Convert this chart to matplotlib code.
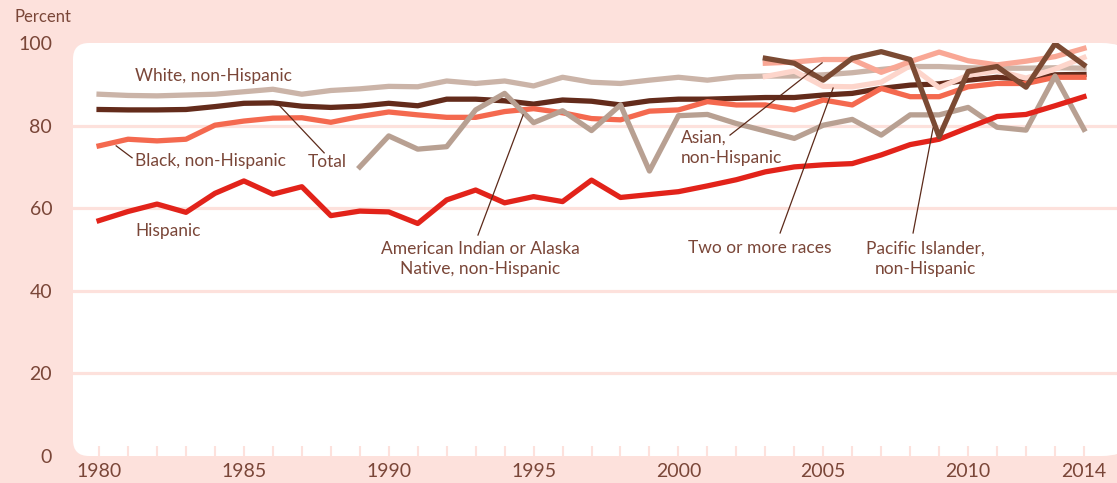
import matplotlib
matplotlib.use("Agg")
import matplotlib.pyplot as plt
from matplotlib.patches import FancyBboxPatch
import numpy as np

# data (percent)
years = list(range(1980, 2015))
years_aian = list(range(1989, 2015))
years_new = list(range(2003, 2015))

white = [87.6, 87.3, 87.2, 87.4, 87.6, 88.2, 88.8, 87.6, 88.5, 88.9,
         89.5, 89.4, 90.8, 90.2, 90.8, 89.6, 91.7, 90.5, 90.2, 91.0,
         91.7, 91.0, 91.8, 92.0, 92.0, 92.3, 92.8, 93.6, 94.3, 94.3,
         94.0, 93.9, 93.9, 94.0, 93.9]
total = [83.9, 83.8, 83.8, 83.9, 84.6, 85.4, 85.5, 84.7, 84.4, 84.7,
         85.4, 84.8, 86.4, 86.4, 86.0, 85.2, 86.2, 85.9, 85.0, 86.0,
         86.4, 86.4, 86.6, 86.8, 86.8, 87.4, 87.8, 89.0, 89.8, 90.1,
         91.0, 91.7, 91.2, 92.3, 92.4]
black = [75.1, 76.7, 76.3, 76.7, 80.1, 81.1, 81.8, 81.9, 80.8, 82.2,
         83.3, 82.6, 82.0, 82.0, 83.4, 84.1, 83.1, 81.7, 81.4, 83.5,
         83.8, 85.8, 85.0, 85.0, 83.8, 86.2, 85.0, 89.0, 87.0, 87.0,
         89.4, 90.2, 90.2, 91.7, 91.7]
hispanic = [57.0, 59.2, 61.0, 59.0, 63.6, 66.6, 63.4, 65.2, 58.2, 59.3,
            59.1, 56.3, 62.0, 64.4, 61.3, 62.8, 61.6, 66.8, 62.6, 63.3,
            64.0, 65.4, 66.9, 68.8, 70.0, 70.5, 70.8, 72.9, 75.4, 76.7,
            79.5, 82.2, 82.7, 84.8, 87.0]
aian = [70.0, 77.5, 74.3, 74.9, 83.8, 87.8, 80.7, 83.6, 78.8, 85.0,
        69.0, 82.4, 82.7, 80.5, 78.7, 76.9, 80.1, 81.5, 77.7, 82.6,
        82.6, 84.4, 79.6, 78.9, 92.0, 79.1]
asian = [95.1, 95.4, 96.0, 96.0, 92.9, 95.5, 97.8, 95.7, 94.7, 95.6,
         96.7, 98.7]
two_or_more = [91.9, 93.2, 89.5, 89.4, 90.5, 94.5, 89.2, 92.2, 93.3, 91.5,
               93.7, 96.5]
pacific = [96.3, 95.1, 91.0, 96.3, 97.9, 96.0, 77.3, 93.1, 94.3, 89.3,
           99.8, 94.7]

major_years = [1980, 1985, 1990, 1995, 2000, 2005, 2010, 2014]
y_ticks = [0, 20, 40, 60, 80, 100]

# colours
BG = '#fde1dc'
TEXT = '#7a4638'
LEADER = '#5c2a1a'

plt.rcParams['font.family'] = ['Lato', 'DejaVu Sans']

W, H = 1117, 483
fig = plt.figure(figsize=(W / 100, H / 100), dpi=100, facecolor=BG)

# white rounded panel behind the plot (pixel units through inches)
px = 1 / 100.0
panel_kw = dict(facecolor='white', edgecolor='none',
                transform=fig.dpi_scale_trans, zorder=-5)
fig.patches.append(FancyBboxPatch((73 * px, 27 * px), 520 * px, 413 * px,
                                  boxstyle='round,pad=0,rounding_size=0.16',
                                  **panel_kw))
fig.patches.append(FancyBboxPatch((500 * px, 27 * px), 640 * px, 413 * px,
                                  boxstyle='round,pad=0,rounding_size=0.38',
                                  **panel_kw))

ax = fig.add_axes([73 / W, 27 / H, 1044 / W, 413 / H])
ax.set_zorder(2)
ax.set_facecolor('none')
for s in ax.spines.values():
    s.set_visible(False)

ax.set_xlim(1979.10, 2015.14)
ax.set_ylim(0, 100)

lw = 3.8
ax.plot(years, white, color='#cbb4a8', lw=lw, zorder=3)
ax.plot(years, total, color='#632b1b', lw=lw, zorder=4)
ax.plot(years, black, color='#f4694f', lw=lw, zorder=4)
ax.plot(years_aian, aian, color='#b8a092', lw=lw, zorder=5)
ax.plot(years, hispanic, color='#e2231a', lw=lw, zorder=6)
ax.plot(years_new, two_or_more, color='#fdd5cb', lw=lw, zorder=6)
ax.plot(years_new, asian, color='#f9a795', lw=lw, zorder=6)
ax.plot(years_new, pacific, color='#7b4a33', lw=lw, zorder=7)

# grid lines
ax.set_yticks(y_ticks)
ax.yaxis.grid(True, color=BG, linewidth=2.3)
ax.set_axisbelow(True)
gl = ax.get_ygridlines()
gl[0].set_visible(False)
gl[-1].set_visible(False)

# ticks
ax.set_xticks(major_years)
ax.set_xticks(years, minor=True)
ax.tick_params(axis='x', which='both', direction='in', length=7.5, width=1.5,
               color=BG, labelsize=14, labelcolor=TEXT, pad=5)
ax.tick_params(axis='y', length=0, labelsize=14, labelcolor=TEXT, pad=15)

fig.text(14 / W, 1 - 17 / H, 'Percent', fontsize=12, color=TEXT,
         ha='left', va='center')

# labels
lab = dict(fontsize=12.5, color=TEXT, linespacing=1.3, zorder=8)
ax.text(1981.25, 92.0, 'White, non-Hispanic', ha='left', va='center', **lab)
ax.text(1981.25, 71.4, 'Black, non-Hispanic', ha='left', va='center', **lab)
ax.text(1987.2, 71.2, 'Total', ha='left', va='center', **lab)
ax.text(1981.25, 54.5, 'Hispanic', ha='left', va='center', **lab)
ax.text(1993.15, 47.8, 'American Indian or Alaska\nNative, non-Hispanic',
        ha='center', va='center', **lab)
ax.text(2000.09, 74.6, 'Asian,\nnon-Hispanic', ha='left', va='center', **lab)
ax.text(2002.82, 50.4, 'Two or more races', ha='center', va='center', **lab)
ax.text(2008.51, 47.8, 'Pacific Islander,\nnon-Hispanic', ha='center',
        va='center', **lab)

# leader lines
leaders = [
    ((1980.59, 75.1), (1981.14, 72.2)),
    ((1986.14, 85.5), (1987.77, 73.4)),
    ((1994.64, 82.6), (1993.08, 53.5)),
    ((2004.96, 95.2), (2001.78, 77.7)),
    ((2005.34, 89.1), (2003.51, 54.0)),
    ((2008.79, 79.4), (2008.10, 54.0)),
]
for (x0, y0), (x1, y1) in leaders:
    ax.plot([x0, x1], [y0, y1], color=LEADER, lw=0.9, zorder=9)

plt.savefig('out.png', dpi=100, facecolor=BG)
